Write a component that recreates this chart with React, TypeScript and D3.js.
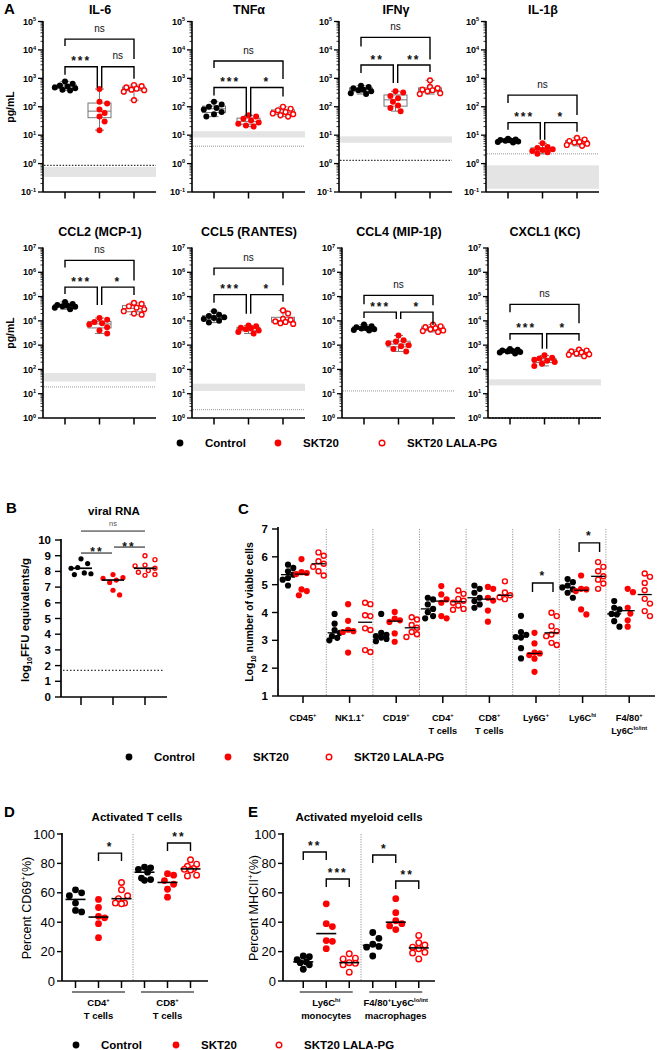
import React from 'react';
import * as d3 from 'd3';

const FONT = '"Liberation Sans", Arial, Helvetica, sans-serif';
const RED = '#ff0000';
const GROUPS = ['Control', 'SKT20', 'SKT20 LALA-PG'];

// ---------------- Panel A data (pg/mL) ----------------
const IL6_CONTROL = [780, 650, 560, 520, 480, 450, 400, 370];
const IL6_SKT20 = [420, 150, 130, 80, 60, 45, 30, 15];
const IL6_LALA = [580, 530, 480, 430, 400, 380, 340, 170];
const TNF_CONTROL = [150, 120, 100, 90, 80, 65, 55, 45];
const TNF_SKT20 = [50, 45, 38, 33, 28, 25, 22, 20];
const TNF_LALA = [100, 85, 75, 65, 58, 55, 50, 45];
const IFN_CONTROL = [550, 500, 450, 400, 380, 350, 300, 280];
const IFN_SKT20 = [350, 320, 240, 200, 150, 110, 90, 70];
const IFN_LALA = [850, 500, 450, 400, 380, 350, 300, 280];
const IL1B_CONTROL = [7.5, 7, 6.8, 6.5, 6.3, 6, 5.8, 5.5];
const IL1B_SKT20 = [5.2, 3.8, 3.5, 3.2, 3, 2.8, 2.5, 2.2];
const IL1B_LALA = [8, 7, 6.2, 5.8, 5.5, 5, 4.5, 4.2];
const CCL2_CONTROL = [60000, 50000, 45000, 42000, 40000, 38000, 35000, 30000];
const CCL2_SKT20 = [13000, 11000, 9000, 8000, 7000, 5500, 4000, 3000];
const CCL2_LALA = [55000, 50000, 40000, 35000, 30000, 25000, 20000, 18000];
const CCL5_CONTROL = [25000, 18000, 16000, 14000, 13000, 12000, 10000, 8500];
const CCL5_SKT20 = [6500, 6000, 5200, 5000, 4500, 4000, 3500, 3000];
const CCL5_LALA = [27000, 20000, 12000, 11000, 9500, 9000, 8000, 7500];
const CCL4_CONTROL = [7000, 6000, 5500, 5000, 4800, 4500, 4200, 4000];
const CCL4_SKT20 = [2500, 1600, 1400, 1200, 1000, 900, 700, 550];
const CCL4_LALA = [7000, 6000, 5500, 5000, 4500, 4000, 3800, 3500];
const CXCL1_CONTROL = [700, 650, 600, 580, 550, 520, 500, 450];
const CXCL1_SKT20 = [380, 300, 280, 250, 230, 200, 170, 140];
const CXCL1_LALA = [650, 600, 550, 500, 450, 420, 400, 350];

// detection ranges (grey band) and LOD dotted lines
const A_BANDS = [[0.34, 0.76], [8.3, 13.8], [5.4, 9.1], [0.13, 0.87], [32, 71], [13, 26], null, [22, 39]];
const A_LODS = [0.87, 4.1, 1.3, 2.2, 19, 2.2, 13, 1];
const A_LOD_DARK = [true, false, true, false, false, false, false, true];

// significance brackets: group a, group b, level (log10), label, leg lengths
const IL6_BRACKETS = [[0, 2, 4.38, 'ns', 7, 20], [0, 1, 3.41, '***', 8, 21], [1, 2, 3.41, 'ns', 21, 12]];
const TNF_BRACKETS = [[0, 2, 3.61, 'ns', 7, 18], [0, 1, 2.68, '***', 8, 29], [1, 2, 2.68, '*', 29, 9]];
const IFN_BRACKETS = [[0, 2, 4.44, 'ns', 9, 22], [0, 1, 3.47, '**', 8, 18], [1, 2, 3.47, '**', 18, 7]];
const IL1B_BRACKETS = [[0, 2, 2.41, 'ns', 8, 20], [0, 1, 1.44, '***', 7, 17], [1, 2, 1.44, '*', 17, 9]];
const CCL2_BRACKETS = [[0, 2, 6.49, 'ns', 7, 20], [0, 1, 5.39, '***', 7, 18], [1, 2, 5.39, '*', 18, 8]];
const CCL5_BRACKETS = [[0, 2, 6.17, 'ns', 7, 17], [0, 1, 5.08, '***', 8, 19], [1, 2, 5.08, '*', 19, 7]];
const CCL4_BRACKETS = [[0, 2, 5.05, 'ns', 9, 10], [0, 1, 4.36, '***', 6, 7], [1, 2, 4.36, '*', 7, 13]];
const CXCL1_BRACKETS = [[0, 2, 4.68, 'ns', 8, 19], [0, 1, 3.47, '***', 6, 15], [1, 2, 3.47, '*', 15, 7]];

// ---------------- Panel B data ----------------
const B_CONTROL = [8.8, 8.5, 8.25, 8.2, 7.9, 7.85, 7.8];
const B_SKT20 = [7.8, 7.6, 7.55, 7.45, 7.3, 6.8, 6.5];
const B_LALA = [9.0, 8.75, 8.4, 8.35, 8.2, 8.05, 7.95, 7.8, 7.75];
const B_LOD = 1.7;
const B_TICKS = d3.range(0, 11);

// ---------------- Panel C data (log10 cells) ----------------
const C_CATEGORIES = ['CD45^{+}', 'NK1.1^{+}', 'CD19^{+}', 'CD4^{+}|T cells', 'CD8^{+}|T cells', 'Ly6G^{+}', 'Ly6C^{hi}', 'F4/80^{+}|Ly6C^{lo/int}'];
const C_CD45 = [[5.72, 5.6, 5.48, 5.36, 5.24, 5.18, 4.97], [5.92, 5.45, 5.42, 5.38, 4.83, 4.77, 4.62], [6.16, 6.04, 5.84, 5.75, 5.64, 5.48, 5.33]];
const C_NK = [[3.95, 3.6, 3.37, 3.27, 3.15, 3.09, 3.0], [4.3, 3.7, 3.38, 3.33, 3.3, 2.56], [4.35, 4.3, 3.9, 3.87, 3.43, 3.37, 2.65, 2.58]];
const C_CD19 = [[3.95, 3.27, 3.2, 3.15, 3.1, 3.05, 2.97], [4.02, 3.78, 3.72, 3.66, 3.25, 2.95], [3.83, 3.75, 3.55, 3.45, 3.3, 3.22, 3.12]];
const C_CD4 = [[4.53, 4.47, 4.29, 4.13, 4.01, 3.87, 3.79], [4.95, 4.65, 4.47, 4.35, 3.87, 3.79], [4.79, 4.67, 4.49, 4.42, 4.35, 4.25, 4.13, 4.1]];
const C_CD8 = [[4.97, 4.85, 4.71, 4.53, 4.41, 4.29, 4.17], [4.92, 4.85, 4.53, 4.43, 4.07, 3.67], [5.12, 4.72, 4.62, 4.55, 4.48]];
const C_LY6G = [[3.88, 3.3, 3.2, 3.12, 3.1, 2.72, 2.35], [3.27, 2.89, 2.56, 2.53, 2.47, 2.34, 1.87], [3.99, 3.87, 3.51, 3.33, 3.21, 3.15, 2.91, 2.83]];
const C_LY6CHI = [[5.2, 5.09, 4.97, 4.9, 4.83, 4.71, 4.53], [5.33, 4.85, 4.83, 4.77, 4.11, 3.93], [5.81, 5.64, 5.48, 5.3, 5.18, 5.04, 4.85]];
const C_F480 = [[4.41, 4.17, 4.11, 3.95, 3.93, 3.69, 3.49], [4.85, 4.73, 4.17, 3.96, 3.72, 3.49], [5.4, 5.28, 5.06, 4.8, 4.49, 4.32, 4.05, 3.87]];
const C_SERIES = [C_CD45, C_NK, C_CD19, C_CD4, C_CD8, C_LY6G, C_LY6CHI, C_F480];
const C_BRACKETS = [[5, 1, 2, 5.06, '*'], [6, 1, 2, 6.5, '*']];
const C_TICKS = d3.range(1, 8);

// ---------------- Panel D / E data (percent) ----------------
const D_CATEGORIES = ['CD4^{+}|T cells', 'CD8^{+}|T cells'];
const D_CD4 = [[62, 60, 58, 53, 48, 47], [55.5, 50, 44, 43, 39, 29.5], [67, 62, 58, 56, 53, 53, 52.5]];
const D_CD8 = [[77.5, 77, 76, 74, 70, 69, 68.5], [73, 72, 68.3, 65.8, 62.4, 57], [82.5, 79.5, 78, 76.5, 76, 75.5, 72, 71.5]];
const D_BRACKETS = [[0, 1, 2, 87, '*'], [1, 1, 2, 93.9, '**']];
const E_CATEGORIES = ['Ly6C^{hi}|monocytes', 'F4/80^{+}Ly6C^{lo/int}|macrophages'];
const E_LY6CHI = [[17, 16.5, 14.5, 13, 12.5, 11, 8], [52.5, 39, 37, 27.5, 27, 22], [18.5, 15.5, 15, 12.5, 12, 11, 6]];
const E_F480 = [[33, 29, 25, 23.5, 23, 17], [56, 46.5, 41, 39, 37.5, 35], [31, 26, 24.5, 23, 22, 19.5, 19, 15]];
const E_BRACKETS = [[0, 0, 1, 87.8, '**'], [0, 1, 2, 69.4, '***'], [1, 0, 1, 85.7, '*'], [1, 1, 2, 68, '**']];
const PCT_TICKS = [0, 20, 40, 60, 80, 100];

// ---------------- helpers ----------------
type Part = { t: string; k: 'n' | 'sup' | 'sub' };
function parseRich(s: string): Part[] {
  const out: Part[] = [];
  const re = /([\^_])\{([^}]*)\}/g;
  let last = 0;
  let m: RegExpExecArray | null;
  while ((m = re.exec(s))) {
    if (m.index > last) out.push({ t: s.slice(last, m.index), k: 'n' });
    out.push({ t: m[2], k: m[1] === '^' ? 'sup' : 'sub' });
    last = re.lastIndex;
  }
  if (last < s.length) out.push({ t: s.slice(last), k: 'n' });
  return out;
}

function Rich({ text, x, y, fs, anchor = 'middle', weight = 'bold', transform, fill = '#000' }: any) {
  const parts = parseRich(text);
  let shift = 0;
  return (
    <text x={x} y={y} fontSize={fs} textAnchor={anchor} fontWeight={weight} transform={transform} fill={fill} fontFamily={FONT}>
      {parts.map((p, i) => {
        const target = p.k === 'sup' ? -fs * 0.4 : p.k === 'sub' ? fs * 0.25 : 0;
        const dy = target - shift;
        shift = target;
        return (
          <tspan key={i} dy={dy} fontSize={p.k === 'n' ? fs : fs * 0.62}>
            {p.t}
          </tspan>
        );
      })}
    </text>
  );
}

function dodge(ys: number[], rc: number, maxOff: number): number[] {
  const order = d3.range(ys.length).sort((a, b) => ys[a] - ys[b]);
  const placed: [number, number][] = [];
  const out = ys.map(() => 0);
  const step = rc * 0.85;
  const cands: number[] = [0];
  for (let k = 1; k * step <= maxOff; k++) cands.push(k * step, -k * step);
  for (const i of order) {
    const yv = ys[i];
    let chosen = 0;
    let bestD = -1;
    let found = false;
    for (const c of cands) {
      const dmin = placed.length ? d3.min(placed, ([px, py]) => Math.hypot(px - c, py - yv))! : Infinity;
      if (dmin >= 2 * rc) {
        chosen = c;
        found = true;
        break;
      }
      if (dmin > bestD) {
        bestD = dmin;
        chosen = c;
      }
    }
    if (!found && bestD < 0) chosen = 0;
    placed.push([chosen, yv]);
    out[i] = chosen;
  }
  return out;
}

function Dot({ x, y, g, r }: { x: number; y: number; g: number; r: number }) {
  if (g === 2) return <circle cx={x} cy={y} r={r - 0.6} fill="#fff" stroke={RED} strokeWidth={1.4} />;
  return <circle cx={x} cy={y} r={r} fill={g === 0 ? '#000' : RED} />;
}

function Stars({ x, cy, label, fs = 12 }: any) {
  if (label === 'ns') {
    return (
      <text x={x} y={cy + fs * 0.27} fontSize={fs} textAnchor="middle" fontFamily={FONT} fill="#111">
        ns
      </text>
    );
  }
  return (
    <text x={x} y={cy + fs * 0.58} fontSize={fs} textAnchor="middle" fontFamily={FONT} fontWeight="bold" letterSpacing={2} fill="#111">
      {label}
    </text>
  );
}

function Legend({ y, xs, tx = 25 }: { y: number; xs: number[]; tx?: number }) {
  return (
    <g>
      {GROUPS.map((g, i) => (
        <g key={g}>
          <Dot x={xs[i]} y={y} g={i} r={3.4} />
          <text x={xs[i] + tx} y={y + 4} fontSize={11.5} fontWeight="bold" fontFamily={FONT}>
            {g}
          </text>
        </g>
      ))}
    </g>
  );
}

// ---------------- Panel A ----------------
const A_OFFSETS = [22, 56.5, 91];
const A_W = 113;
const A_ROWS = [
  { y0: 21.5, y1: 192, lo: 0.1, hi: 1e5, titleY: 13.5, labelY: 107 },
  { y0: 248, y1: 418, lo: 1, hi: 1e7, titleY: 235.5, labelY: 333 },
];
const A_PANELS = [
  { row: 0, x0: 43, title: 'IL-6', data: [IL6_CONTROL, IL6_SKT20, IL6_LALA], brackets: IL6_BRACKETS },
  { row: 0, x0: 192, title: 'TNFα', data: [TNF_CONTROL, TNF_SKT20, TNF_LALA], brackets: TNF_BRACKETS },
  { row: 0, x0: 339, title: 'IFNγ', data: [IFN_CONTROL, IFN_SKT20, IFN_LALA], brackets: IFN_BRACKETS },
  { row: 0, x0: 486, title: 'IL-1β', data: [IL1B_CONTROL, IL1B_SKT20, IL1B_LALA], brackets: IL1B_BRACKETS },
  { row: 1, x0: 43, title: 'CCL2 (MCP-1)', data: [CCL2_CONTROL, CCL2_SKT20, CCL2_LALA], brackets: CCL2_BRACKETS },
  { row: 1, x0: 192, title: 'CCL5 (RANTES)', data: [CCL5_CONTROL, CCL5_SKT20, CCL5_LALA], brackets: CCL5_BRACKETS },
  { row: 1, x0: 342, title: 'CCL4 (MIP-1β)', data: [CCL4_CONTROL, CCL4_SKT20, CCL4_LALA], brackets: CCL4_BRACKETS },
  { row: 1, x0: 488, title: 'CXCL1 (KC)', data: [CXCL1_CONTROL, CXCL1_SKT20, CXCL1_LALA], brackets: CXCL1_BRACKETS },
];

function CytokinePanel({ idx }: { idx: number }) {
  const p = A_PANELS[idx];
  const row = A_ROWS[p.row];
  const y = d3.scaleLog().domain([row.lo, row.hi]).range([row.y1, row.y0]);
  const xs = A_OFFSETS.map((o) => p.x0 + o);
  const xEnd = p.x0 + A_W;
  const e0 = Math.round(Math.log10(row.lo));
  const e1 = Math.round(Math.log10(row.hi));
  const exps = d3.range(e0, e1 + 1);
  const minors: number[] = [];
  for (let e = e0; e < e1; e++) for (let k = 2; k <= 9; k++) minors.push(k * Math.pow(10, e));
  const band = A_BANDS[idx];
  const lod = A_LODS[idx];
  const dark = A_LOD_DARK[idx];
  return (
    <g>
      {band && <rect x={p.x0 + 1} width={A_W - 1} y={y(band[1])} height={y(band[0]) - y(band[1])} fill="#e4e4e4" />}
      <line x1={p.x0 + 1} x2={xEnd} y1={y(lod)} y2={y(lod)} stroke={dark ? '#333' : '#8a8a8a'} strokeWidth={dark ? 1.3 : 0.9} strokeDasharray={dark ? '1.5,1.6' : '1,1'} />
      {p.data.map((vals, g) => {
        const s = [...vals].sort(d3.ascending);
        const q1 = d3.quantile(s, 0.25)!;
        const q3 = d3.quantile(s, 0.75)!;
        const md = d3.quantile(s, 0.5)!;
        const cx = xs[g];
        const ys = vals.map((v) => y(v));
        const off = dodge(ys, 3, 11);
        return (
          <g key={g}>
            <line x1={cx} x2={cx} y1={y(s[0])} y2={y(s[s.length - 1])} stroke="#777" strokeWidth={1} />
            <line x1={cx - 4.5} x2={cx + 4.5} y1={y(s[0])} y2={y(s[0])} stroke="#777" strokeWidth={1} />
            <line x1={cx - 4.5} x2={cx + 4.5} y1={y(s[s.length - 1])} y2={y(s[s.length - 1])} stroke="#777" strokeWidth={1} />
            <rect x={cx - 11.5} width={23} y={y(q3)} height={y(q1) - y(q3)} fill="#fff" stroke="#777" strokeWidth={1} />
            <line x1={cx - 11.5} x2={cx + 11.5} y1={y(md)} y2={y(md)} stroke="#777" strokeWidth={1} />
            {vals.map((v, i) => (
              <Dot key={i} x={cx + off[i]} y={ys[i]} g={g} r={3} />
            ))}
          </g>
        );
      })}
      {/* axes */}
      <line x1={p.x0} x2={p.x0} y1={row.y0 - 0.5} y2={row.y1} stroke="#000" strokeWidth={1.6} />
      <line x1={p.x0} x2={xEnd} y1={row.y1} y2={row.y1} stroke="#000" strokeWidth={1.6} />
      {minors.map((m) => (
        <line key={m} x1={p.x0 - 2.5} x2={p.x0} y1={y(m)} y2={y(m)} stroke="#000" strokeWidth={0.8} />
      ))}
      {exps.map((e) => (
        <g key={e}>
          <line x1={p.x0 - 5} x2={p.x0} y1={y(Math.pow(10, e))} y2={y(Math.pow(10, e))} stroke="#000" strokeWidth={1.3} />
          <Rich text={`10^{${e}}`} x={p.x0 - 7} y={y(Math.pow(10, e)) + 3.2} fs={9} anchor="end" />
        </g>
      ))}
      {xs.map((x, i) => (
        <line key={i} x1={x} x2={x} y1={row.y1} y2={row.y1 + 6.5} stroke="#000" strokeWidth={1.5} />
      ))}
      {/* brackets */}
      {p.brackets.map((b: any, i: number) => {
        const [a, bb, level, label, legA, legB] = b;
        const xa = xs[a] + (a === 1 ? 2.2 : 0);
        const xb = xs[bb] - (bb === 1 ? 2.2 : 0);
        const yy = y(Math.pow(10, level));
        return (
          <g key={i}>
            <path d={`M${xa},${yy + legA}V${yy}H${xb}V${yy + legB}`} fill="none" stroke="#000" strokeWidth={1.4} />
            <Stars x={(xa + xb) / 2} cy={label === 'ns' ? yy - 10 : yy - 8.4} label={label} fs={label === 'ns' ? 10 : 12} />
          </g>
        );
      })}
      <text x={p.x0 + 57} y={row.titleY} fontSize={12.5} fontWeight="bold" textAnchor="middle" fontFamily={FONT}>
        {p.title}
      </text>
      {(idx === 0 || idx === 4) && (
        <text transform={`translate(14,${row.labelY}) rotate(-90)`} fontSize={10.5} fontWeight="bold" textAnchor="middle" fontFamily={FONT}>
          pg/mL
        </text>
      )}
    </g>
  );
}

// ---------------- Panel B ----------------
function PanelB() {
  const y = d3.scaleLinear().domain([0, 10]).range([697, 540]);
  const x = d3.scalePoint().domain(GROUPS).range([81, 145]);
  const data = [B_CONTROL, B_SKT20, B_LALA];
  const xs = GROUPS.map((g) => x(g)!);
  return (
    <g>
      <text x={6} y={513} fontSize={15} fontWeight="bold" fontFamily={FONT}>B</text>
      <text x={114} y={515} fontSize={11.5} fontWeight="bold" textAnchor="middle" fontFamily={FONT}>viral RNA</text>
      <line x1={63} x2={163} y1={y(B_LOD)} y2={y(B_LOD)} stroke="#333" strokeWidth={1.3} strokeDasharray="1.5,2" />
      {data.map((vals, g) => {
        const ys = vals.map((v) => y(v));
        const off = dodge(ys, 3.9, 10);
        const md = d3.median(vals)!;
        return (
          <g key={g}>
            {vals.map((v, i) => (
              <Dot key={i} x={xs[g] + off[i]} y={ys[i]} g={g} r={2.6} />
            ))}
            <line x1={xs[g] - 11} x2={xs[g] + 11} y1={y(md)} y2={y(md)} stroke="#000" strokeWidth={1.7} />
          </g>
        );
      })}
      <line x1={61} x2={61} y1={539} y2={697} stroke="#000" strokeWidth={1.7} />
      <line x1={61} x2={167} y1={697} y2={697} stroke="#000" strokeWidth={1.7} />
      {B_TICKS.map((t) => (
        <g key={t}>
          <line x1={55} x2={61} y1={y(t)} y2={y(t)} stroke="#000" strokeWidth={1.4} />
          <text x={51} y={y(t) + 4} fontSize={11.5} fontWeight="bold" textAnchor="end" fontFamily={FONT}>{t}</text>
        </g>
      ))}
      {xs.map((xx, i) => (
        <line key={i} x1={xx} x2={xx} y1={697} y2={705} stroke="#000" strokeWidth={1.5} />
      ))}
      {/* significance lines */}
      <line x1={xs[0]} x2={xs[2]} y1={y(10.57)} y2={y(10.57)} stroke="#222" strokeWidth={1} />
      <text x={(xs[0] + xs[2]) / 2} y={y(10.57) - 5.5} fontSize={7.5} textAnchor="middle" fill="#555" fontFamily={FONT}>ns</text>
      <line x1={xs[0]} x2={xs[1] - 1} y1={y(9.17)} y2={y(9.17)} stroke="#222" strokeWidth={1.1} />
      <Stars x={(xs[0] + xs[1]) / 2} cy={y(9.17) - 3.5} label="**" fs={12} />
      <line x1={xs[1] + 1} x2={xs[2]} y1={y(9.55)} y2={y(9.55)} stroke="#222" strokeWidth={1.1} />
      <Stars x={(xs[1] + xs[2]) / 2} cy={y(9.55) - 3.5} label="**" fs={12} />
      <Rich text="log_{10}FFU equivalents/g" x={0} y={0} fs={11.5} transform="translate(29,620) rotate(-90)" />
    </g>
  );
}

// ---------------- Panel C ----------------
const C_OFFSETS = [-15, -1.5, 15.5];
function PanelC() {
  const y = d3.scaleLinear().domain([1, 7]).range([696, 529]);
  const x = d3.scaleBand().domain(C_CATEGORIES).range([279.7, 652.5]);
  const bw = x.bandwidth();
  return (
    <g>
      <text x={238} y={514} fontSize={15} fontWeight="bold" fontFamily={FONT}>C</text>
      {C_CATEGORIES.slice(1).map((c) => (
        <line key={c} x1={x(c)!} x2={x(c)!} y1={529} y2={696} stroke="#8a8a8a" strokeWidth={0.9} strokeDasharray="1.2,1.3" />
      ))}
      {C_SERIES.map((series, ci) => {
        const center = x(C_CATEGORIES[ci])! + bw / 2;
        return (
          <g key={ci}>
            {series.map((vals, g) => {
              const cx = center + C_OFFSETS[g];
              const ys = vals.map((v) => y(v));
              const off = dodge(ys, 3.1, 7.5);
              const md = d3.median(vals)!;
              return (
                <g key={g}>
                  {vals.map((v, i) => (
                    <Dot key={i} x={cx + off[i]} y={ys[i]} g={g} r={3.1} />
                  ))}
                  <line x1={cx - 7} x2={cx + 7} y1={y(md)} y2={y(md)} stroke="#000" strokeWidth={1.3} />
                </g>
              );
            })}
          </g>
        );
      })}
      {C_BRACKETS.map((b: any, i) => {
        const [ci, a, bb, level, label] = b;
        const center = x(C_CATEGORIES[ci])! + bw / 2;
        const xa = center + C_OFFSETS[a] - 2;
        const xb = center + C_OFFSETS[bb] + 1.5;
        const yy = y(level);
        return (
          <g key={i}>
            <path d={`M${xa},${yy + 9}V${yy}H${xb}V${yy + 9}`} fill="none" stroke="#000" strokeWidth={1.4} />
            <Stars x={(xa + xb) / 2} cy={yy - 10} label={label} fs={12} />
          </g>
        );
      })}
      <line x1={278} x2={278} y1={527} y2={696} stroke="#000" strokeWidth={1.7} />
      <line x1={278} x2={655} y1={696} y2={696} stroke="#000" strokeWidth={1.7} />
      {C_TICKS.map((t) => (
        <g key={t}>
          <line x1={272} x2={278} y1={y(t)} y2={y(t)} stroke="#000" strokeWidth={1.4} />
          <text x={268} y={y(t) + 4} fontSize={11.5} fontWeight="bold" textAnchor="end" fontFamily={FONT}>{t}</text>
        </g>
      ))}
      {C_CATEGORIES.map((c) => {
        const cx = x(c)! + bw / 2;
        const lines = c.split('|');
        return (
          <g key={c}>
            <line x1={cx} x2={cx} y1={696} y2={703} stroke="#000" strokeWidth={1.5} />
            {lines.map((l, li) => (
              <Rich key={li} text={l} x={cx} y={721 + li * 12.5} fs={9.2} />
            ))}
          </g>
        );
      })}
      <Rich text="Log_{10} number of viable cells" x={0} y={0} fs={10.5} transform="translate(253,612) rotate(-90)" />
    </g>
  );
}

// ---------------- Panels D / E ----------------
function PercentPanel({ x0, x1, bandRange, cats, series, brackets, letter, letterX, title, titleX, ylabel, ylabelX }: any) {
  const y = d3.scaleLinear().domain([0, 100]).range([981, 834]);
  const x = d3.scaleBand().domain(cats).range(bandRange);
  const bw = x.bandwidth();
  const offs = [-23, 0, 23];
  return (
    <g>
      <text x={letterX} y={817} fontSize={15} fontWeight="bold" fontFamily={FONT}>{letter}</text>
      <text x={titleX} y={821} fontSize={11.5} fontWeight="bold" textAnchor="middle" fontFamily={FONT}>{title}</text>
      <line x1={x(cats[1])!} x2={x(cats[1])!} y1={834} y2={981} stroke="#8a8a8a" strokeWidth={0.9} strokeDasharray="1.2,1.3" />
      {series.map((ser: number[][], ci: number) => {
        const center = x(cats[ci])! + bw / 2;
        return (
          <g key={ci}>
            {ser.map((vals, g) => {
              const cx = center + offs[g];
              const ys = vals.map((v) => y(v));
              const off = dodge(ys, 3.6, 9);
              const md = d3.median(vals)!;
              return (
                <g key={g}>
                  {vals.map((v, i) => (
                    <Dot key={i} x={cx + off[i]} y={ys[i]} g={g} r={3.4} />
                  ))}
                  <line x1={cx - 10} x2={cx + 10} y1={y(md)} y2={y(md)} stroke="#000" strokeWidth={1.6} />
                </g>
              );
            })}
            <line x1={center - 26.5} x2={center + 26.5} y1={992} y2={992} stroke="#000" strokeWidth={1.2} />
            {cats[ci].split('|').map((l: string, li: number) => (
              <Rich key={li} text={l} x={center} y={1006 + li * 13} fs={9.5} />
            ))}
            {offs.map((o, k) => (
              <line key={k} x1={center + o} x2={center + o} y1={981} y2={988} stroke="#000" strokeWidth={1.5} />
            ))}
          </g>
        );
      })}
      {brackets.map((b: any, i: number) => {
        const [ci, a, bb, level, label] = b;
        const center = x(cats[ci])! + bw / 2;
        const xa = center + offs[a];
        const xb = center + offs[bb];
        const yy = y(level);
        return (
          <g key={i}>
            <path d={`M${xa},${yy + 8}V${yy}H${xb}V${yy + 8}`} fill="none" stroke="#000" strokeWidth={1.4} />
            <Stars x={(xa + xb) / 2} cy={yy - 9} label={label} fs={12} />
          </g>
        );
      })}
      <line x1={x0} x2={x0} y1={833} y2={981} stroke="#000" strokeWidth={1.7} />
      <line x1={x0} x2={x1} y1={981} y2={981} stroke="#000" strokeWidth={1.7} />
      {PCT_TICKS.map((t) => (
        <g key={t}>
          <line x1={x0 - 5} x2={x0} y1={y(t)} y2={y(t)} stroke="#000" strokeWidth={1.4} />
          <text x={x0 - 7} y={y(t) + 4.5} fontSize={13} textAnchor="end" fontFamily={FONT}>{t}</text>
        </g>
      ))}
      <Rich text={ylabel} x={0} y={0} fs={12.5} weight="normal" transform={`translate(${ylabelX},908) rotate(-90)`} />
    </g>
  );
}

export default function App() {
  return (
    <svg width={657} height={1050} viewBox="0 0 657 1050" style={{ position: 'absolute', left: 0, top: 0, background: '#fff' }} fontFamily={FONT}>
      <rect width={657} height={1050} fill="#fff" />
      <text x={4} y={13.5} fontSize={15} fontWeight="bold" fontFamily={FONT}>A</text>
      {A_PANELS.map((_, i) => (
        <CytokinePanel key={i} idx={i} />
      ))}
      <Legend y={443} xs={[180, 278, 382]} />
      <PanelB />
      <PanelC />
      <Legend y={757} xs={[129, 228, 329]} />
      <PercentPanel x0={62} x1={208} bandRange={[64, 202]} cats={D_CATEGORIES} series={[D_CD4, D_CD8]} brackets={D_BRACKETS} letter="D" letterX={4} title="Activated T cells" titleX={137} ylabel="Percent CD69^{+}(%)" ylabelX={31} />
      <PercentPanel x0={283} x1={435} bandRange={[291.5, 430.5]} cats={E_CATEGORIES} series={[E_LY6CHI, E_F480]} brackets={E_BRACKETS} letter="E" letterX={248} title="Activated myeloid cells" titleX={359} ylabel="Percent MHCII^{+}(%)" ylabelX={258} />
      <Legend y={1045} xs={[76, 176, 279]} />
    </svg>
  );
}
